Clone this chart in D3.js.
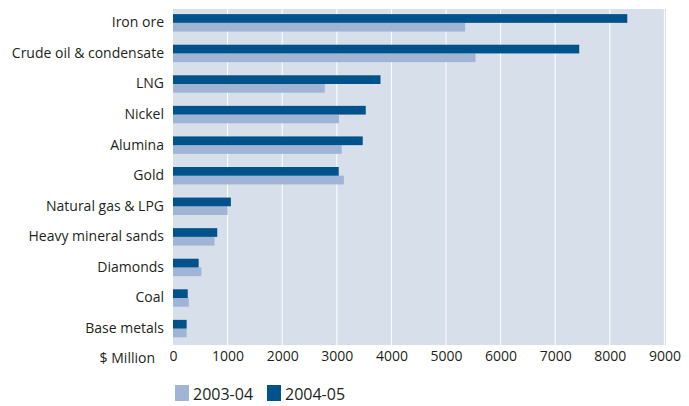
<!DOCTYPE html>
<html>
<head>
<meta charset="utf-8">
<script src="https://cdn.jsdelivr.net/npm/d3@7/dist/d3.min.js"></script>
<style>
  html, body { margin: 0; padding: 0; background: #fff; }
  svg { display: block; }
  text { font-family: "Open Sans", "Liberation Sans", Arial, sans-serif; fill: #231f20; }
</style>
</head>
<body>
<svg id="chart" width="689" height="406"></svg>
<script>
// Commodity sales values, $ million
const categories = ["Iron ore", "Crude oil & condensate", "LNG", "Nickel", "Alumina", "Gold",
  "Natural gas & LPG", "Heavy mineral sands", "Diamonds", "Coal", "Base metals"];
const values2003 = [5350, 5540, 2780, 3040, 3090, 3130, 1000, 760, 520, 290, 250];
const values2004 = [8320, 7440, 3800, 3530, 3475, 3035, 1060, 810, 470, 270, 250];
const seriesNames = ["2003-04", "2004-05"];
const tickValues = [0, 1000, 2000, 3000, 4000, 5000, 6000, 7000, 8000, 9000];
const axisTitle = "$ Million";

const colors = { "2003-04": "#a0b5d5", "2004-05": "#00538a" };
const plot = { left: 173, right: 666, top: 9, bottom: 345 };

const svg = d3.select("#chart");

const x = d3.scaleLinear().domain([0, 9000]).range([plot.left, plot.left + 491.4]);
const y = d3.scaleBand().domain(categories).range([plot.top, plot.bottom])
  .paddingInner(0.43).paddingOuter(0.21).align(0.4);
const ySeries = d3.scaleBand().domain(["2004-05", "2003-04"]).range([0, y.bandwidth()]);

// plot background
svg.append("rect")
  .attr("x", plot.left).attr("y", plot.top)
  .attr("width", plot.right - plot.left).attr("height", plot.bottom - plot.top)
  .attr("fill", "#d7dfeb");

// vertical gridlines
svg.append("g").selectAll("line")
  .data(tickValues.slice(1))
  .join("line")
  .attr("x1", d => x(d)).attr("x2", d => x(d))
  .attr("y1", plot.top).attr("y2", plot.bottom)
  .attr("stroke", "#ffffff").attr("stroke-width", 1);

// bars
const rows = categories.map((c, i) => ({ cat: c, "2003-04": values2003[i], "2004-05": values2004[i] }));
const groups = svg.append("g").selectAll("g")
  .data(rows)
  .join("g")
  .attr("transform", d => `translate(0,${y(d.cat)})`);

groups.selectAll("rect")
  .data(d => seriesNames.map(s => ({ s, v: d[s] })))
  .join("rect")
  .attr("x", x(0))
  .attr("y", d => ySeries(d.s))
  .attr("width", d => x(d.v) - x(0))
  .attr("height", ySeries.bandwidth())
  .attr("fill", d => colors[d.s]);

// category labels
const yAxis = d3.axisLeft(y).tickSize(0).tickPadding(9);
const gy = svg.append("g").attr("transform", `translate(${plot.left},0)`).call(yAxis);
gy.select(".domain").remove();
gy.attr("font-family", null).attr("font-size", null);
gy.selectAll("text").attr("font-size", 14);

// value axis
const xAxis = d3.axisBottom(x).tickValues(tickValues).tickFormat(d3.format("d")).tickSize(0).tickPadding(6);
const gx = svg.append("g").attr("transform", `translate(0,${plot.bottom})`).call(xAxis);
gx.select(".domain").remove();
gx.attr("font-family", null).attr("font-size", null);
gx.selectAll("text").attr("font-size", 14);

svg.append("text")
  .attr("x", 155).attr("y", 358).attr("dy", "0.35em")
  .attr("text-anchor", "end").attr("font-size", 14)
  .text(axisTitle);

// legend
const legend = svg.append("g").attr("transform", "translate(175,385)");
const legendX = [0, 92];
seriesNames.forEach((s, i) => {
  const g = legend.append("g").attr("transform", `translate(${legendX[i]},0)`);
  g.append("rect").attr("width", 14).attr("height", 16).attr("fill", colors[s]);
  g.append("text").attr("x", 18).attr("y", 9).attr("dy", "0.35em")
    .attr("font-size", 16).text(s);
});
</script>
</body>
</html>
